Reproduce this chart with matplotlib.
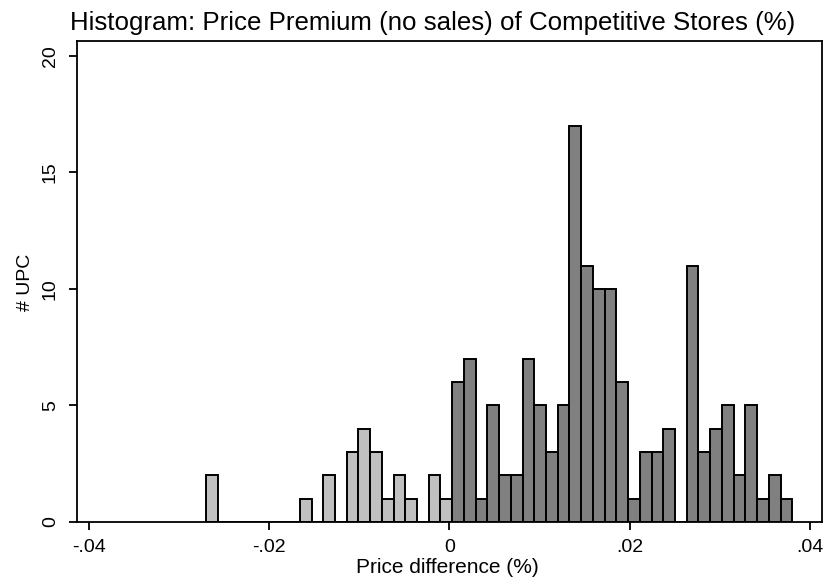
import numpy as np
import matplotlib.pyplot as plt

# histogram bins: 50 bins of equal width starting at the minimum price difference
bin_start = -0.0270
bin_width = 0.0013
counts = [2, 0, 0, 0, 0, 0, 0, 0, 1, 0,
          2, 0, 3, 4, 3, 1, 2, 1, 0, 2,
          1, 6, 7, 1, 5, 2, 2, 7, 5, 3,
          5, 17, 11, 10, 10, 6, 1, 3, 3, 4,
          0, 11, 3, 4, 5, 2, 5, 1, 2, 1]

xticks = [-0.04, -0.02, 0.0, 0.02, 0.04]
xticklabels = ['-.04', '-.02', '0', '.02', '.04']
yticks = [0, 5, 10, 15, 20]

plt.rcParams['font.family'] = ['Liberation Sans', 'DejaVu Sans']

edges = bin_start + bin_width * np.arange(len(counts) + 1)
centers = (edges[:-1] + edges[1:]) / 2
colors = ['#c0c0c0' if c < 0 else '#808080' for c in centers]

W, H = 827, 581
fig = plt.figure(figsize=(W / 100, H / 100), dpi=100)
ax = fig.add_axes([77 / W, 1 - 522 / H, (822 - 77) / W, (522 - 41) / H])

ax.bar(edges[:-1], counts, width=bin_width, align='edge', color=colors,
       edgecolor='black', linewidth=1.4)

ax.set_xlim(-0.0413, 0.0413)
ax.set_ylim(0, 20.64)
ax.set_xticks(xticks)
ax.set_xticklabels(xticklabels)
ax.set_yticks(yticks)
ax.set_yticklabels([str(t) for t in yticks], rotation=90, va='center')
ax.tick_params(direction='out', length=6, width=1.3, labelsize=14)
ax.tick_params(axis='x', pad=6)
ax.tick_params(axis='y', pad=7)
for sp in ax.spines.values():
    sp.set_linewidth(1.3)

# axis titles placed in pixel positions
fig.text(447 / W, 1 - 573 / H, 'Price difference (%)', ha='center', va='baseline',
         fontsize=15)
fig.text(26 / W, 1 - 282 / H, '# UPC', ha='center', va='center', rotation=90,
         fontsize=14)
fig.text(433 / W, 1 - 30 / H, 'Histogram: Price Premium (no sales) of Competitive Stores (%)',
         ha='center', va='baseline', fontsize=18.6)

fig.savefig('out.png', dpi=100)
